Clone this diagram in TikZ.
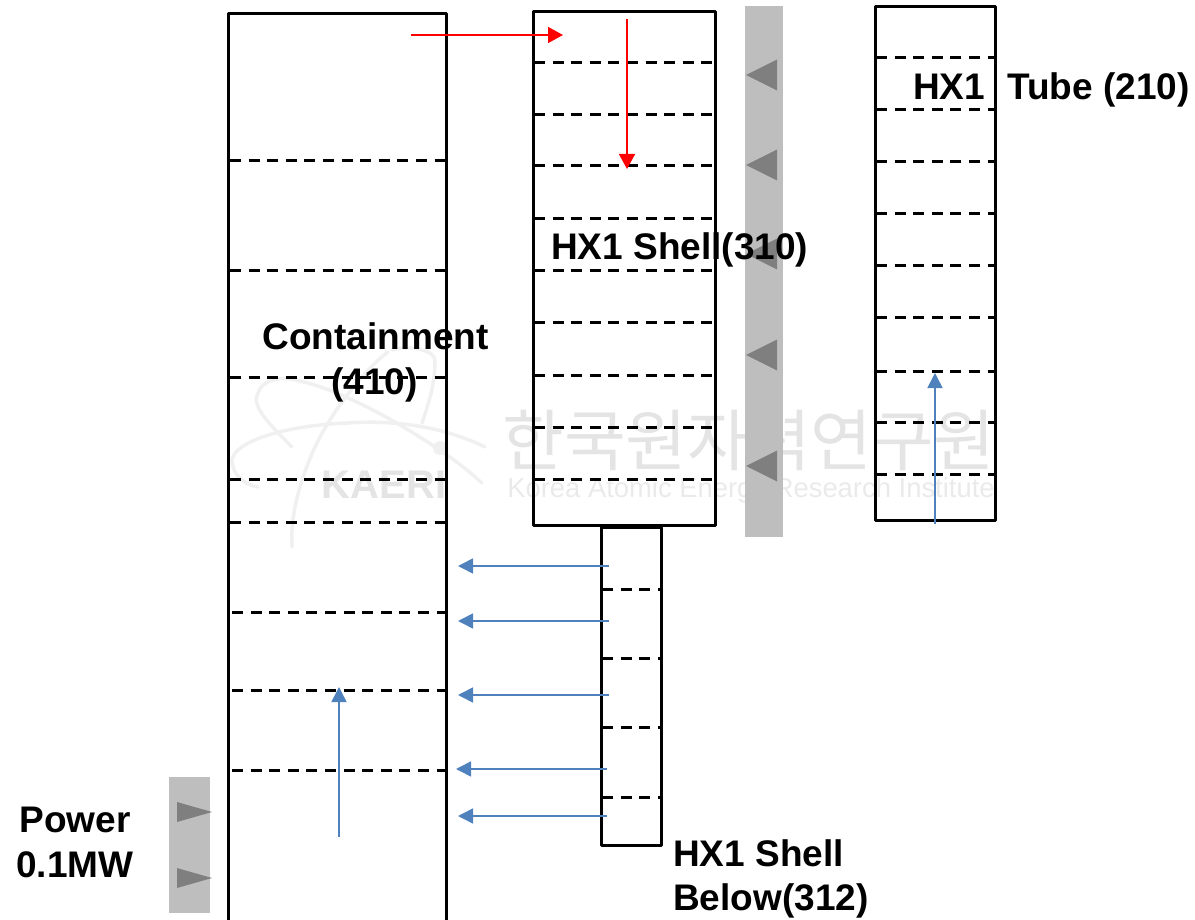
\documentclass[tikz,border=0pt]{standalone}
\usepackage{fontspec}
\setmainfont{Liberation Sans}
\newfontfamily\krfont{Noto Sans CJK KR}
\usetikzlibrary{arrows.meta}
\definecolor{flowblue}{HTML}{4F81BD}
\definecolor{stripgray}{HTML}{BEBEBE}
\definecolor{trigray}{HTML}{7F7F7F}
\definecolor{wmgray}{HTML}{E4E4E4}
\definecolor{wmtext}{HTML}{EAEAEA}
\definecolor{wmline}{HTML}{F0F0F0}
\tikzset{
  box/.style={draw=black,line width=3pt,line join=round},
  sep/.style={draw=black,line width=3pt,dash pattern=on 11pt off 7.6pt},
  strip/.style={fill=stripgray,draw=none},
  tri/.style={fill=trigray,draw=none},
  label/.style={font=\fontsize{37}{40}\selectfont\bfseries,text=black,inner sep=0pt},
  redflow/.style={draw=red,line width=1.6pt,-{Triangle[length=15pt,width=16pt,color=red]}},
  blueflow/.style={draw=flowblue,line width=1.6pt,-{Triangle[length=15pt,width=15pt,color=flowblue]}},
  wm/.style={draw=wmline,line width=3.5pt,line cap=round}
}
\begin{document}
\begin{tikzpicture}[x=1pt,y=-1pt]
\useasboundingbox (0,0) rectangle (1195,920);
\clip (0,0) rectangle (1195,920);
% watermark
\draw[wm] (485,447) .. controls (440,425) and (390,420) .. (348,423) .. controls (290,425) and (235,440) .. (232,460) .. controls (232,475) and (245,485) .. (258,487);
\draw[wm] (292,447) .. controls (270,425) and (250,405) .. (258,393) .. controls (262,380) and (280,375) .. (300,381) .. controls (340,390) and (395,420) .. (435,447) .. controls (455,460) and (470,472) .. (482,483);
\draw[wm] (392,350) .. controls (410,345) and (437,350) .. (435,362) .. controls (435,385) and (428,405) .. (422,423);
\draw[wm] (388,352) .. controls (370,365) and (335,405) .. (315,447) .. controls (300,480) and (290,515) .. (292,547);
\fill[wmline] (440,448) circle[radius=7];
\node[inner sep=0pt,text=wmgray,font=\fontsize{40}{44}\selectfont\bfseries] (wmA) at (384,485) {KAERI};
\node[inner sep=0pt,text=wmgray,font=\krfont\fontsize{67}{72}\selectfont] (wmB) at (749,440) {한국원자력연구원};
\node[inner sep=0pt,text=wmtext,font=\fontsize{27.4}{30}\selectfont] (wmC) at (751,490) {Korea Atomic Energy Research Institute};
% heat strips
\node[strip,minimum width=38pt,minimum height=531pt,inner sep=0pt] (stripR) at (764,271.5) {};
\node[strip,minimum width=41pt,minimum height=136pt,inner sep=0pt] (stripP) at (189.5,845) {};
\foreach \y in {75,165,254,355,466}
  \fill[tri] (746,\y) -- (777,\y-15.5) -- (777,\y+15.5) -- cycle;
\foreach \y in {812,878}
  \fill[tri] (212,\y) -- (177,\y-10) -- (177,\y+10) -- cycle;
% boxes
\draw[box] (228.5,940) -- (228.5,14) -- (446,14) -- (446,940);
\node[box,minimum width=182pt,minimum height=513pt,inner sep=0pt] (shell) at (624,268.5) {};
\node[box,minimum width=120pt,minimum height=513pt,inner sep=0pt] (tube) at (935,263.5) {};
\node[box,minimum width=60pt,minimum height=318pt,inner sep=0pt] (below) at (631,686) {};
% dashed separators
\foreach \y in {161,271,377,479,522} \draw[sep] (230,\y) -- (446,\y);
\foreach \y in {612,690,770} \draw[sep] (232,\y) -- (448,\y);
\foreach \y in {63,115,166,219,271,323,375,427,479} \draw[sep] (534,\y) -- (714,\y);
\foreach \y in {58,110,162,214,266,318,371,422,474} \draw[sep] (876,\y) -- (994,\y);
\foreach \y in {589,658,727,797} \draw[sep] (602,\y) -- (660,\y);
% flow coordinates
\coordinate (r1s) at (411,35); \coordinate (r1e) at (563,35);
\coordinate (r2s) at (627,19); \coordinate (r2e) at (627,169);
\coordinate (b1s) at (609,566); \coordinate (b1e) at (458,566);
\coordinate (b2s) at (609,621); \coordinate (b2e) at (458,621);
\coordinate (b3s) at (609,695); \coordinate (b3e) at (458,695);
\coordinate (b4s) at (607,769); \coordinate (b4e) at (456,769);
\coordinate (b5s) at (607,816); \coordinate (b5e) at (458,816);
\coordinate (b6s) at (339,837); \coordinate (b6e) at (339,687);
\coordinate (b7s) at (935,524); \coordinate (b7e) at (935,373);
\draw[redflow] (r1s) -- (r1e);
\draw[redflow] (r2s) -- (r2e);
\foreach \i in {1,...,7} \draw[blueflow] (b\i s) -- (b\i e);
% labels
\node[label,anchor=west] (l1) at (913,87) {HX1};
\node[label,anchor=west] (l2) at (1007,90) {Tube (210)};
\node[label,anchor=west] (l3) at (551,250) {HX1 Shell(310)};
\node[label,anchor=center] (l4) at (375.5,336) {Containment};
\node[label,anchor=center] (l5) at (374.5,385) {(410)};
\node[label,anchor=center] (l6) at (75,820) {Power};
\node[label,anchor=center] (l7) at (75,865) {0.1MW};
\node[label,anchor=west] (l8) at (673,853) {HX1 Shell};
\node[label,anchor=west] (l9) at (673,901) {Below(312)};
\end{tikzpicture}
\end{document}
